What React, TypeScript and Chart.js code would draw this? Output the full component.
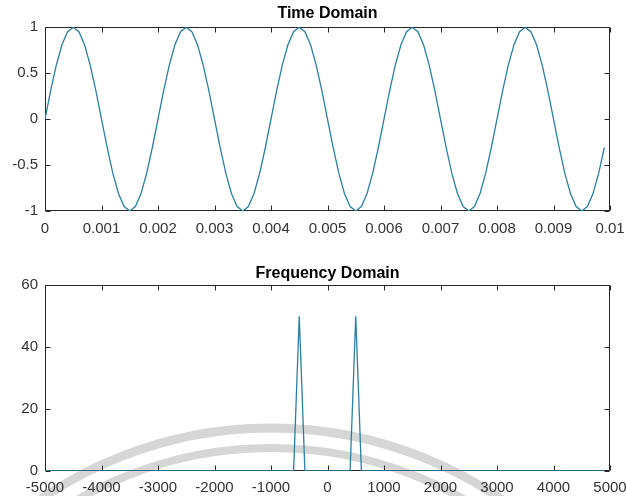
import { useEffect, useRef } from "react";
import { Chart, registerables } from "chart.js";

Chart.register(...registerables);

// ---------- Data ----------
const timeS = [
  0, 0.0001, 0.0002, 0.0003, 0.0004, 0.0005, 0.0006, 0.0007, 0.0008, 0.0009,
  0.001, 0.0011, 0.0012, 0.0013, 0.0014, 0.0015, 0.0016, 0.0017, 0.0018, 0.0019,
  0.002, 0.0021, 0.0022, 0.0023, 0.0024, 0.0025, 0.0026, 0.0027, 0.0028, 0.0029,
  0.003, 0.0031, 0.0032, 0.0033, 0.0034, 0.0035, 0.0036, 0.0037, 0.0038, 0.0039,
  0.004, 0.0041, 0.0042, 0.0043, 0.0044, 0.0045, 0.0046, 0.0047, 0.0048, 0.0049,
  0.005, 0.0051, 0.0052, 0.0053, 0.0054, 0.0055, 0.0056, 0.0057, 0.0058, 0.0059,
  0.006, 0.0061, 0.0062, 0.0063, 0.0064, 0.0065, 0.0066, 0.0067, 0.0068, 0.0069,
  0.007, 0.0071, 0.0072, 0.0073, 0.0074, 0.0075, 0.0076, 0.0077, 0.0078, 0.0079,
  0.008, 0.0081, 0.0082, 0.0083, 0.0084, 0.0085, 0.0086, 0.0087, 0.0088, 0.0089,
  0.009, 0.0091, 0.0092, 0.0093, 0.0094, 0.0095, 0.0096, 0.0097, 0.0098, 0.0099,
];

const amplitude = [
  0, 0.309, 0.588, 0.809, 0.951, 1, 0.951, 0.809, 0.588, 0.309,
  0, -0.309, -0.588, -0.809, -0.951, -1, -0.951, -0.809, -0.588, -0.309,
  0, 0.309, 0.588, 0.809, 0.951, 1, 0.951, 0.809, 0.588, 0.309,
  0, -0.309, -0.588, -0.809, -0.951, -1, -0.951, -0.809, -0.588, -0.309,
  0, 0.309, 0.588, 0.809, 0.951, 1, 0.951, 0.809, 0.588, 0.309,
  0, -0.309, -0.588, -0.809, -0.951, -1, -0.951, -0.809, -0.588, -0.309,
  0, 0.309, 0.588, 0.809, 0.951, 1, 0.951, 0.809, 0.588, 0.309,
  0, -0.309, -0.588, -0.809, -0.951, -1, -0.951, -0.809, -0.588, -0.309,
  0, 0.309, 0.588, 0.809, 0.951, 1, 0.951, 0.809, 0.588, 0.309,
  0, -0.309, -0.588, -0.809, -0.951, -1, -0.951, -0.809, -0.588, -0.309,
];

const freqHz = [-5000, -600, -500, -400, 400, 500, 600, 4900];
const magnitude = [0, 0, 50, 0, 0, 50, 0, 0];

const timeTitle = "Time Domain";
const freqTitle = "Frequency Domain";

// ---------- Styling ----------
const LINE_COLOR = "#2b7fa1";
const AXIS_COLOR = "#262626";
const TICK_FONT = { family: '"Liberation Sans", Arial, Helvetica, sans-serif', size: 15 };
const TITLE_FONT = { family: '"Liberation Sans", Arial, Helvetica, sans-serif', size: 16, weight: "bold" as const };

// MATLAB-like box with inward ticks on all four sides
const matlabBox = {
  id: "matlabBox",
  beforeDatasetsDraw(chart: any) {
    const { ctx, chartArea: a, scales } = chart;
    const L = Math.round(a.left) + 0.5;
    const R = Math.round(a.right) - 0.5;
    const T = Math.round(a.top) + 0.5;
    const B = Math.round(a.bottom) - 0.5;
    const len = 5;
    ctx.save();
    ctx.strokeStyle = AXIS_COLOR;
    ctx.lineWidth = 1;
    ctx.beginPath();
    ctx.rect(L, T, R - L, B - T);
    for (const t of scales.x.ticks) {
      const px = Math.round(scales.x.getPixelForValue(t.value)) + 0.5;
      ctx.moveTo(px, B);
      ctx.lineTo(px, B - len);
      ctx.moveTo(px, T);
      ctx.lineTo(px, T + len);
    }
    for (const t of scales.y.ticks) {
      const py = Math.round(scales.y.getPixelForValue(t.value)) + 0.5;
      ctx.moveTo(L, py);
      ctx.lineTo(L + len, py);
      ctx.moveTo(R, py);
      ctx.lineTo(R - len, py);
    }
    ctx.stroke();
    ctx.restore();
  },
};

// light gray watermark arcs seen across the lower plot (decoration only)
const watermark = {
  id: "watermark",
  beforeDraw(chart: any, _args: any, opts: any) {
    if (!opts || !opts.show) return;
    const { ctx } = chart;
    ctx.save();
    ctx.strokeStyle = "#d6d6d6";
    ctx.lineWidth = 9;
    ctx.beginPath();
    ctx.arc(271, 588, 408, 0, Math.PI * 2);
    ctx.stroke();
    ctx.lineWidth = 8;
    ctx.beginPath();
    ctx.arc(271, 588, 388, 0, Math.PI * 2);
    ctx.stroke();
    ctx.restore();
  },
};

function fmt(v: any) {
  return String(parseFloat(Number(v).toFixed(4)));
}

function makeConfig(opts: {
  points: { x: number; y: number }[];
  title: string;
  titlePadTop: number;
  titlePadBottom: number;
  xMin: number;
  xMax: number;
  xStep: number;
  yMin: number;
  yMax: number;
  yStep: number;
  xAxisHeight: number;
  xLabelPad: number;
  showWatermark: boolean;
}): any {
  return {
    type: "line",
    data: {
      datasets: [
        {
          data: opts.points,
          borderColor: LINE_COLOR,
          borderWidth: 1.3,
          pointRadius: 0,
          tension: 0,
          fill: false,
        },
      ],
    },
    options: {
      responsive: false,
      animation: false,
      events: [],
      layout: { autoPadding: false, padding: { left: 0, right: 16, top: 0, bottom: 0 } },
      plugins: {
        legend: { display: false },
        tooltip: { enabled: false },
        title: {
          display: true,
          fullSize: false,
          text: opts.title,
          color: "#000",
          font: TITLE_FONT,
          padding: { top: opts.titlePadTop, bottom: opts.titlePadBottom },
        },
        watermark: { show: opts.showWatermark },
      },
      scales: {
        x: {
          type: "linear",
          min: opts.xMin,
          max: opts.xMax,
          grid: { display: false, drawTicks: false },
          border: { display: false },
          ticks: {
            stepSize: opts.xStep,
            autoSkip: false,
            maxRotation: 0,
            color: "#333",
            font: TICK_FONT,
            padding: opts.xLabelPad,
            callback: (v: any) => fmt(v),
          },
          afterFit: (s: any) => {
            s.height = opts.xAxisHeight;
            s.paddingLeft = 0;
            s.paddingRight = 0;
          },
        },
        y: {
          type: "linear",
          min: opts.yMin,
          max: opts.yMax,
          grid: { display: false, drawTicks: false },
          border: { display: false },
          ticks: {
            stepSize: opts.yStep,
            autoSkip: false,
            color: "#333",
            font: TICK_FONT,
            padding: 7,
            callback: (v: any) => fmt(v),
          },
          afterFit: (s: any) => {
            s.width = 45;
            s.paddingTop = 0;
            s.paddingBottom = 0;
          },
        },
      },
    },
    plugins: [watermark, matlabBox],
  };
}

export default function App() {
  const topRef = useRef<HTMLCanvasElement | null>(null);
  const botRef = useRef<HTMLCanvasElement | null>(null);

  useEffect(() => {
    const timePoints = timeS.map((t, i) => ({ x: t, y: amplitude[i] }));
    const freqPoints = freqHz.map((f, i) => ({ x: f, y: magnitude[i] }));

    const c1 = new Chart(
      topRef.current as HTMLCanvasElement,
      makeConfig({
        points: timePoints,
        title: timeTitle,
        titlePadTop: 4,
        titlePadBottom: 4,
        xMin: 0,
        xMax: 0.01,
        xStep: 0.001,
        yMin: -1,
        yMax: 1,
        yStep: 0.5,
        xAxisHeight: 37,
        xLabelPad: 9,
        showWatermark: false,
      })
    );
    const c2 = new Chart(
      botRef.current as HTMLCanvasElement,
      makeConfig({
        points: freqPoints,
        title: freqTitle,
        titlePadTop: 16,
        titlePadBottom: 2,
        xMin: -5000,
        xMax: 5000,
        xStep: 1000,
        yMin: 0,
        yMax: 60,
        yStep: 20,
        xAxisHeight: 25,
        xLabelPad: 8,
        showWatermark: true,
      })
    );
    return () => {
      c1.destroy();
      c2.destroy();
    };
  }, []);

  return (
    <div style={{ position: "absolute", left: 0, top: 0, width: 626, height: 496, background: "#fff" }}>
      <canvas ref={topRef} width={626} height={248} style={{ display: "block", width: 626, height: 248 }} />
      <canvas ref={botRef} width={626} height={248} style={{ display: "block", width: 626, height: 248 }} />
    </div>
  );
}
